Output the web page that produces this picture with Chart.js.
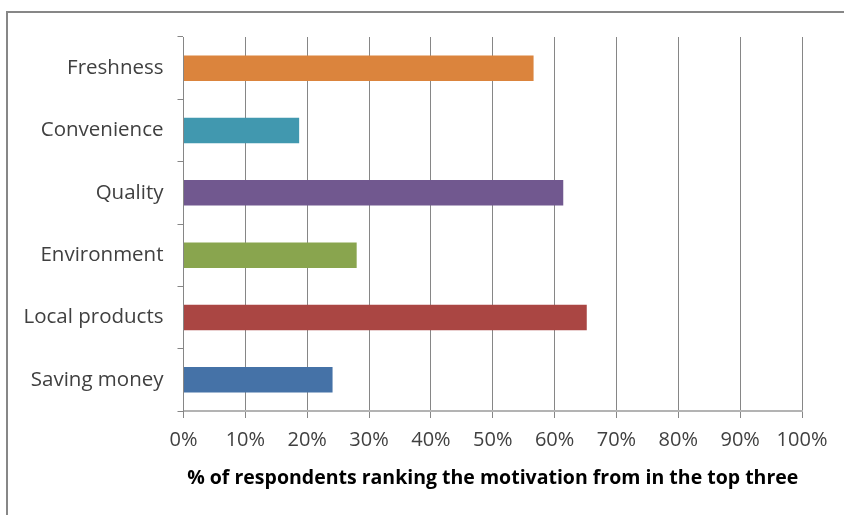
<!DOCTYPE html>
<html lang="en">
<head>
<meta charset="UTF-8">
<title>Motivations</title>
<script src="https://cdn.jsdelivr.net/npm/chart.js"></script>
<style>
  html, body { margin: 0; padding: 0; background: #fff; }
  #wrap { position: relative; width: 844px; height: 515px; overflow: hidden; }
  #frame {
    position: absolute; left: 6px; top: 11px; width: 900px; height: 600px;
    border-top: 2px solid #878787; border-left: 2px solid #878787;
  }
  canvas { position: absolute; left: 0; top: 0; }
</style>
</head>
<body>
<div id="wrap">
  <div id="frame"></div>
  <canvas id="myChart" width="844" height="515"></canvas>
</div>
<script>
// data (percent of respondents)
const categories = ["Freshness", "Convenience", "Quality", "Environment", "Local products", "Saving money"];
const values = [56.6, 18.7, 61.4, 28.0, 65.2, 24.1];
const barColors = ["#DB843D", "#4198AF", "#71588F", "#89A54E", "#AA4643", "#4572A7"];
const xTicks = [0, 10, 20, 30, 40, 50, 60, 70, 80, 90, 100];
const xTitle = "% of respondents ranking the motivation from in the top three";

Chart.defaults.font.family = "'Open Sans'";
Chart.defaults.color = "#404040";

const ctx = document.getElementById('myChart').getContext('2d');
const myChart = new Chart(ctx, {
    type: 'bar',
    data: {
        labels: categories,
        datasets: [{
            data: values,
            backgroundColor: barColors,
            borderWidth: 0,
            barPercentage: 0.41,
            categoryPercentage: 1
        }]
    },
    options: {
        indexAxis: 'y',
        responsive: false,
        animation: false,
        layout: { padding: { top: 37, right: 42, left: 0, bottom: 25 } },
        plugins: { legend: { display: false }, tooltip: { enabled: false } },
        scales: {
            x: {
                min: 0,
                max: 100,
                afterBuildTicks: (scale) => { scale.ticks = xTicks.map(v => ({ value: v })); },
                afterFit: (scale) => { scale.height = 79; },
                grid: { color: '#868686', lineWidth: 1, tickLength: 7 },
                border: { color: '#b3b3b3', width: 2 },
                ticks: {
                    padding: 10,
                    font: { size: 20 },
                    callback: (v) => v + '%'
                },
                title: {
                    display: true,
                    text: xTitle,
                    color: '#000',
                    font: { size: 19.5, weight: 'bold', lineHeight: 1.2 },
                    padding: { top: 4, bottom: 0 }
                }
            },
            y: {
                afterFit: (scale) => { scale.width = 183.5; },
                grid: { drawOnChartArea: false, color: '#868686', tickLength: 6 },
                border: { color: '#868686', width: 1 },
                ticks: { padding: 14, font: { size: 20.5 } }
            }
        }
    }
});
</script>
</body>
</html>
